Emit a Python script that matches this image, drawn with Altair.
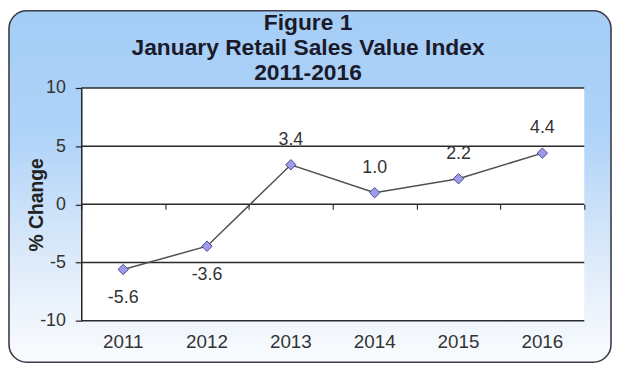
import altair as alt
import pandas as pd

# ---- data ----
years = ["2011", "2012", "2013", "2014", "2015", "2016"]
pct_change = [-5.6, -3.6, 3.4, 1.0, 2.2, 4.4]
y_ticks = [10, 5, 0, -5, -10]
title_lines = ["Figure 1", "January Retail Sales Value Index", "2011-2016"]
y_title = "% Change"

# ---- layout (pixels) ----
W, H = 508, 235
PAD = {"left": 74, "top": 79, "right": 28, "bottom": 43}
FONT = "Liberation Sans"

df = pd.DataFrame({
    "year": years,
    "value": pct_change,
    "label": [f"{v:.1f}" for v in pct_change],
})
grid_df = pd.DataFrame({"tick": y_ticks})
one = pd.DataFrame({"k": [0]})

y_scale = alt.Scale(domain=[-10, 10], nice=False, zero=False)
x_scale = alt.Scale(type="band", paddingInner=0, paddingOuter=0)

y_axis = alt.Axis(
    values=y_ticks, grid=False, domain=True, domainColor="#222222", domainWidth=1.5,
    ticks=True, tickSize=6, tickColor="#222222", tickWidth=1.2,
    labelFont=FONT, labelFontSize=18, labelColor="#333333", labelPadding=10,
    labelExpr="'' + datum.value",
    title=y_title, titleFont=FONT, titleFontSize=19.5, titleFontWeight="bold",
    titleColor="#222222", titleX=-45, titleY=H / 2, titleBaseline="middle",
    titleAngle=270, zindex=1,
)
x_label_axis = alt.Axis(
    orient="bottom", domain=False, ticks=False, labelAngle=0,
    labelFont=FONT, labelFontSize=19, labelColor="#333333", labelPadding=12,
    title=None, zindex=1,
)
x_tick_axis = alt.Axis(
    orient="bottom", offset=-H / 2, labels=False, domain=False, ticks=True,
    tickBand="extent", tickSize=5, tickColor="#333333", tickWidth=1.2,
    title=None, zindex=1,
)

gradient = alt.LinearGradient(
    gradient="linear", x1=0, x2=0, y1=0, y2=1,
    stops=[
        alt.GradientStop(color="#a4cdf6", offset=0),
        alt.GradientStop(color="#afd3f8", offset=0.35),
        alt.GradientStop(color="#e2edfa", offset=0.75),
        alt.GradientStop(color="#fafcfe", offset=1),
    ],
)

frame = alt.Chart(one).mark_rect(
    fill=gradient, stroke="#3c3c48", strokeWidth=1.6, cornerRadius=18
).encode(
    x=alt.value(-PAD["left"] + 1), x2=alt.value(W + PAD["right"] - 1),
    y=alt.value(-PAD["top"] + 1), y2=alt.value(H + PAD["bottom"] - 1),
)

plot_bg = alt.Chart(one).mark_rect(fill="white").encode(
    x=alt.value(0), x2=alt.value(W), y=alt.value(0), y2=alt.value(H)
)

title = alt.Chart(one).mark_text(
    text=title_lines, font=FONT, fontSize=23, fontWeight="bold",
    color="#1a1a2a", lineHeight=25.5, align="center", baseline="middle",
).encode(x=alt.value(229), y=alt.value(-66))

grid = alt.Chart(grid_df).mark_rule(color="#2a2a2a", strokeWidth=1.5).encode(
    y=alt.Y("tick:Q", scale=y_scale, axis=y_axis)
)

base = alt.Chart(df)

line = base.mark_line(color="#505050", strokeWidth=1.5).encode(
    x=alt.X("year:O", scale=x_scale, axis=x_label_axis, sort=years),
    y=alt.Y("value:Q", scale=y_scale, axis=y_axis),
)

points = base.mark_point(
    shape="diamond", filled=True, color="#9c9ce8", stroke="#4a4a8c",
    strokeWidth=1, size=110, opacity=1,
).encode(
    x=alt.X("year:O", scale=x_scale, axis=x_tick_axis, sort=years),
    y=alt.Y("value:Q", scale=y_scale, axis=y_axis),
)

label_enc = dict(
    x=alt.X("year:O", scale=x_scale, axis=None, sort=years),
    y=alt.Y("value:Q", scale=y_scale, axis=y_axis),
    text=alt.Text("label:N"),
)
labels_pos = base.transform_filter("datum.value >= 0").mark_text(
    dy=-25, font=FONT, fontSize=18, color="#333333"
).encode(**label_enc)
labels_neg = base.transform_filter("datum.value < 0").mark_text(
    dy=29, font=FONT, fontSize=18, color="#333333"
).encode(**label_enc)

chart = alt.layer(
    frame, plot_bg, title, grid, line, points, labels_pos, labels_neg
).resolve_axis(x="independent").properties(
    width=W, height=H,
    autosize=alt.AutoSizeParams(type="none"),
    padding=PAD,
    background="white",
).configure_view(stroke=None)

chart.save("out.html", embed_options={"renderer": "svg", "actions": False})
